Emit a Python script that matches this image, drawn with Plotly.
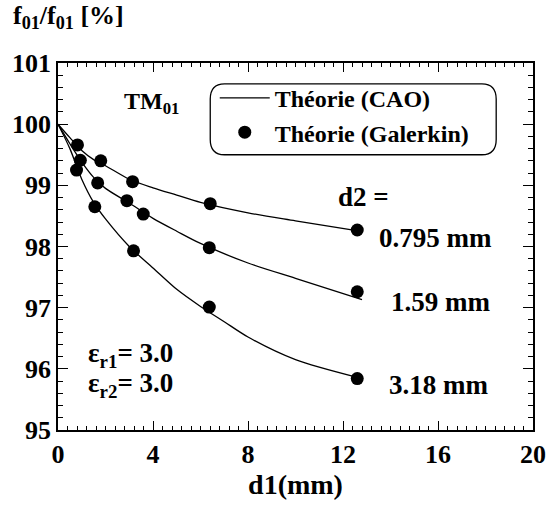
import plotly.graph_objects as go

# ---- data ----
# CAO theory curves (d1 in mm, f01/f01 in %)
cao_x_0795 = [0, 0.5, 1, 1.5, 2, 3, 4, 5, 6, 8, 10, 12.7]
cao_y_0795 = [100, 99.78, 99.57, 99.42, 99.32, 99.10, 98.96, 98.84, 98.72, 98.55, 98.42, 98.25]
cao_x_159 = [0, 0.5, 1, 1.5, 2, 3, 4, 5, 6, 8, 10, 12.8]
cao_y_159 = [100, 99.68, 99.38, 99.13, 98.95, 98.71, 98.46, 98.25, 98.05, 97.73, 97.48, 97.13]
cao_x_318 = [0, 0.5, 1, 1.5, 2, 3, 4, 5, 6, 7, 8, 10, 12.6]
cao_y_318 = [100, 99.60, 99.10, 98.72, 98.45, 98.00, 97.65, 97.30, 97.02, 96.77, 96.52, 96.15, 95.86]

# Galerkin theory points
gal_x_0795 = [0.82, 1.80, 3.14, 6.41, 12.6]
gal_y_0795 = [99.66, 99.40, 99.06, 98.70, 98.27]
gal_x_159 = [0.94, 1.67, 2.90, 3.59, 6.37, 12.6]
gal_y_159 = [99.41, 99.04, 98.75, 98.53, 97.98, 97.26]
gal_x_318 = [0.78, 1.55, 3.18, 6.37, 12.6]
gal_y_318 = [99.25, 98.65, 97.93, 97.01, 95.84]

x_ticks = [0, 4, 8, 12, 16, 20]
y_ticks = [95, 96, 97, 98, 99, 100, 101]

FONT = "Liberation Serif"

fig = go.Figure()

curves = [(cao_x_0795, cao_y_0795), (cao_x_159, cao_y_159), (cao_x_318, cao_y_318)]
for i, (cx, cy) in enumerate(curves):
    fig.add_trace(go.Scatter(
        x=cx, y=cy, mode="lines", line=dict(color="black", width=1.3, shape="spline", smoothing=0.8),
        name="Théorie (CAO)", legendgroup="cao", showlegend=(i == 0)))

points = [(gal_x_0795, gal_y_0795), (gal_x_159, gal_y_159), (gal_x_318, gal_y_318)]
for i, (px, py) in enumerate(points):
    fig.add_trace(go.Scatter(
        x=px, y=py, mode="markers", marker=dict(color="black", size=13, symbol="circle"),
        name="Théorie (Galerkin)", legendgroup="gal", showlegend=(i == 0)))

tfont = dict(family=FONT, size=26, color="black", weight="bold")

fig.update_xaxes(
    range=[0, 20], tickvals=x_ticks, ticks="inside", ticklen=9, tickwidth=1.3, tickcolor="black",
    minor=dict(dtick=0.4, ticks="inside", ticklen=4, tickcolor="black", tickwidth=1),
    showline=True, linecolor="black", linewidth=1.5, mirror="ticks", showgrid=False, zeroline=False,
    tickfont=tfont,
    title=dict(text="d1(mm)", font=dict(family=FONT, size=28, color="black", weight="bold"), standoff=6),
)
fig.update_yaxes(
    range=[95, 101], tickvals=y_ticks, ticks="inside", ticklen=10, tickwidth=1.3, tickcolor="black",
    minor=dict(dtick=0.2, ticks="inside", ticklen=5, tickcolor="black", tickwidth=1),
    showline=True, linecolor="black", linewidth=1.5, mirror="ticks", showgrid=False, zeroline=False,
    tickfont=tfont,
)

afont = dict(family=FONT, size=27, color="black", weight="bold")
anns = [
    dict(x=-0.098, y=1.125, xref="paper", yref="paper", xanchor="left", yanchor="middle",
         text="f<sub>01</sub>/f<sub>01</sub> [%]", font=dict(family=FONT, size=26, color="black", weight="bold")),
    dict(x=2.69, y=100.35, text="TM<sub>01</sub>", xanchor="left",
         font=dict(family=FONT, size=24, color="black", weight="bold")),
    dict(x=12.85, y=98.81, text="d2 =", xanchor="center", font=afont),
    dict(x=13.45, y=98.14, text="0.795 mm", xanchor="left", font=afont),
    dict(x=13.95, y=97.09, text="1.59 mm", xanchor="left", font=afont),
    dict(x=13.85, y=95.74, text="3.18 mm", xanchor="left", font=afont),
    dict(x=1.18, y=96.23, text="ε<sub>r1</sub>= 3.0", xanchor="left", font=afont),
    dict(x=1.18, y=95.74, text="ε<sub>r2</sub>= 3.0", xanchor="left", font=afont),
]
for a in anns:
    a.setdefault("xref", "x")
    a.setdefault("yref", "y")
    a["showarrow"] = False
    fig.add_annotation(**a)

# rounded legend box
x0, x1, y0, y1 = 6.41, 18.45, 99.50, 100.66
rx, ry = 0.6, 0.25
path = (f"M {x0+rx},{y1} L {x1-rx},{y1} Q {x1},{y1} {x1},{y1-ry} L {x1},{y0+ry} "
        f"Q {x1},{y0} {x1-rx},{y0} L {x0+rx},{y0} Q {x0},{y0} {x0},{y0+ry} "
        f"L {x0},{y1-ry} Q {x0},{y1} {x0+rx},{y1} Z")
fig.add_shape(type="path", path=path, xref="x", yref="y", line=dict(color="black", width=1.3))

fig.update_layout(
    width=558, height=507,
    margin=dict(l=56, r=12, t=63, b=77),
    paper_bgcolor="white", plot_bgcolor="white",
    showlegend=True,
    legend=dict(x=0.33, y=0.965, xanchor="left", yanchor="top", bgcolor="rgba(0,0,0,0)",
                font=dict(family=FONT, size=24, color="black", weight="bold"),
                itemwidth=50, tracegroupgap=0),
)

fig.write_html("out.html")
